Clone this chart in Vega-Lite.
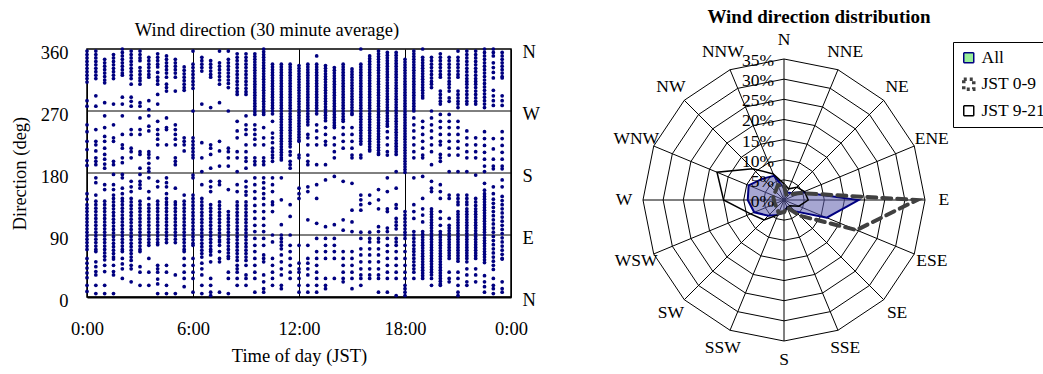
{
"$schema": "https://vega.github.io/schema/vega-lite/v6.json",
"autosize": {"type": "pad"},
"padding": {"left": 9, "top": 8, "right": 0, "bottom": 0},
"background": "white",
"bounds": "flush",
"spacing": 122,
"config": {"font": "Liberation Serif", "view": {"stroke": null}, "axis": {"labelColor": "#000", "titleColor": "#000"}, "title": {"color": "#000"}},
"datasets": {
"scatter": [
{"t":0,"d":357},{"t":0,"d":352},{"t":0,"d":347},{"t":0,"d":342},{"t":0,"d":337},{"t":0,"d":332},{"t":0,"d":327},{"t":0,"d":322},{"t":0,"d":317},{"t":0,"d":312},{"t":0,"d":285},{"t":0,"d":277},{"t":0,"d":250},{"t":0,"d":240},{"t":0,"d":226},{"t":0,"d":214},{"t":0,"d":198},{"t":0,"d":191},{"t":0,"d":150},{"t":0,"d":142},{"t":0,"d":134},{"t":0,"d":129},{"t":0,"d":124},{"t":0,"d":119},{"t":0,"d":114},{"t":0,"d":109},{"t":0,"d":104},{"t":0,"d":99},{"t":0,"d":94},{"t":0,"d":89},{"t":0,"d":84},{"t":0,"d":79},{"t":0,"d":74},{"t":0,"d":69},{"t":0,"d":56},{"t":0,"d":49},{"t":0,"d":42},{"t":0,"d":35},{"t":0,"d":28},{"t":0,"d":17},{"t":0,"d":8},
{"t":0.5,"d":357},{"t":0.5,"d":352},{"t":0.5,"d":347},{"t":0.5,"d":342},{"t":0.5,"d":337},{"t":0.5,"d":332},{"t":0.5,"d":327},{"t":0.5,"d":322},{"t":0.5,"d":317},{"t":0.5,"d":292},{"t":0.5,"d":277},{"t":0.5,"d":243},{"t":0.5,"d":226},{"t":0.5,"d":221},{"t":0.5,"d":212},{"t":0.5,"d":202},{"t":0.5,"d":197},{"t":0.5,"d":192},{"t":0.5,"d":173},{"t":0.5,"d":166},{"t":0.5,"d":148},{"t":0.5,"d":139},{"t":0.5,"d":134},{"t":0.5,"d":129},{"t":0.5,"d":124},{"t":0.5,"d":119},{"t":0.5,"d":114},{"t":0.5,"d":109},{"t":0.5,"d":104},{"t":0.5,"d":99},{"t":0.5,"d":94},{"t":0.5,"d":89},{"t":0.5,"d":84},{"t":0.5,"d":79},{"t":0.5,"d":74},{"t":0.5,"d":69},{"t":0.5,"d":66},{"t":0.5,"d":51},{"t":0.5,"d":44},{"t":0.5,"d":37},{"t":0.5,"d":32},{"t":0.5,"d":17},{"t":0.5,"d":5},
{"t":1,"d":345},{"t":1,"d":340},{"t":1,"d":335},{"t":1,"d":330},{"t":1,"d":325},{"t":1,"d":320},{"t":1,"d":315},{"t":1,"d":311},{"t":1,"d":282},{"t":1,"d":263},{"t":1,"d":246},{"t":1,"d":233},{"t":1,"d":226},{"t":1,"d":216},{"t":1,"d":207},{"t":1,"d":200},{"t":1,"d":193},{"t":1,"d":187},{"t":1,"d":163},{"t":1,"d":156},{"t":1,"d":139},{"t":1,"d":134},{"t":1,"d":129},{"t":1,"d":124},{"t":1,"d":119},{"t":1,"d":114},{"t":1,"d":109},{"t":1,"d":104},{"t":1,"d":99},{"t":1,"d":94},{"t":1,"d":89},{"t":1,"d":84},{"t":1,"d":79},{"t":1,"d":74},{"t":1,"d":69},{"t":1,"d":64},{"t":1,"d":59},{"t":1,"d":54},{"t":1,"d":46},{"t":1,"d":37},{"t":1,"d":17},{"t":1,"d":5},
{"t":1.5,"d":352},{"t":1.5,"d":347},{"t":1.5,"d":342},{"t":1.5,"d":337},{"t":1.5,"d":332},{"t":1.5,"d":327},{"t":1.5,"d":322},{"t":1.5,"d":317},{"t":1.5,"d":280},{"t":1.5,"d":250},{"t":1.5,"d":231},{"t":1.5,"d":226},{"t":1.5,"d":197},{"t":1.5,"d":192},{"t":1.5,"d":178},{"t":1.5,"d":163},{"t":1.5,"d":156},{"t":1.5,"d":148},{"t":1.5,"d":143},{"t":1.5,"d":138},{"t":1.5,"d":133},{"t":1.5,"d":128},{"t":1.5,"d":123},{"t":1.5,"d":118},{"t":1.5,"d":113},{"t":1.5,"d":108},{"t":1.5,"d":103},{"t":1.5,"d":98},{"t":1.5,"d":93},{"t":1.5,"d":88},{"t":1.5,"d":83},{"t":1.5,"d":78},{"t":1.5,"d":73},{"t":1.5,"d":68},{"t":1.5,"d":63},{"t":1.5,"d":58},{"t":1.5,"d":55},{"t":1.5,"d":46},{"t":1.5,"d":37},{"t":1.5,"d":32},{"t":1.5,"d":5},
{"t":2,"d":360},{"t":2,"d":355},{"t":2,"d":350},{"t":2,"d":345},{"t":2,"d":340},{"t":2,"d":335},{"t":2,"d":330},{"t":2,"d":325},{"t":2,"d":322},{"t":2,"d":290},{"t":2,"d":280},{"t":2,"d":263},{"t":2,"d":236},{"t":2,"d":221},{"t":2,"d":216},{"t":2,"d":202},{"t":2,"d":195},{"t":2,"d":178},{"t":2,"d":173},{"t":2,"d":158},{"t":2,"d":150},{"t":2,"d":143},{"t":2,"d":139},{"t":2,"d":134},{"t":2,"d":129},{"t":2,"d":124},{"t":2,"d":119},{"t":2,"d":114},{"t":2,"d":109},{"t":2,"d":104},{"t":2,"d":99},{"t":2,"d":94},{"t":2,"d":89},{"t":2,"d":84},{"t":2,"d":79},{"t":2,"d":74},{"t":2,"d":69},{"t":2,"d":66},{"t":2,"d":56},{"t":2,"d":48},{"t":2,"d":41},{"t":2,"d":27},
{"t":2.5,"d":357},{"t":2.5,"d":352},{"t":2.5,"d":347},{"t":2.5,"d":342},{"t":2.5,"d":337},{"t":2.5,"d":332},{"t":2.5,"d":327},{"t":2.5,"d":322},{"t":2.5,"d":317},{"t":2.5,"d":309},{"t":2.5,"d":290},{"t":2.5,"d":284},{"t":2.5,"d":277},{"t":2.5,"d":243},{"t":2.5,"d":236},{"t":2.5,"d":216},{"t":2.5,"d":211},{"t":2.5,"d":202},{"t":2.5,"d":168},{"t":2.5,"d":160},{"t":2.5,"d":153},{"t":2.5,"d":143},{"t":2.5,"d":138},{"t":2.5,"d":133},{"t":2.5,"d":128},{"t":2.5,"d":123},{"t":2.5,"d":118},{"t":2.5,"d":113},{"t":2.5,"d":108},{"t":2.5,"d":103},{"t":2.5,"d":98},{"t":2.5,"d":93},{"t":2.5,"d":88},{"t":2.5,"d":83},{"t":2.5,"d":78},{"t":2.5,"d":73},{"t":2.5,"d":68},{"t":2.5,"d":63},{"t":2.5,"d":58},{"t":2.5,"d":53},{"t":2.5,"d":46},{"t":2.5,"d":41},{"t":2.5,"d":22},
{"t":3,"d":357},{"t":3,"d":352},{"t":3,"d":347},{"t":3,"d":343},{"t":3,"d":333},{"t":3,"d":328},{"t":3,"d":323},{"t":3,"d":318},{"t":3,"d":314},{"t":3,"d":309},{"t":3,"d":282},{"t":3,"d":277},{"t":3,"d":260},{"t":3,"d":243},{"t":3,"d":236},{"t":3,"d":211},{"t":3,"d":207},{"t":3,"d":187},{"t":3,"d":178},{"t":3,"d":168},{"t":3,"d":163},{"t":3,"d":158},{"t":3,"d":139},{"t":3,"d":134},{"t":3,"d":129},{"t":3,"d":124},{"t":3,"d":119},{"t":3,"d":114},{"t":3,"d":109},{"t":3,"d":104},{"t":3,"d":99},{"t":3,"d":94},{"t":3,"d":89},{"t":3,"d":84},{"t":3,"d":79},{"t":3,"d":74},{"t":3,"d":69},{"t":3,"d":66},{"t":3,"d":44},{"t":3,"d":36},{"t":3,"d":17},
{"t":3.5,"d":348},{"t":3.5,"d":343},{"t":3.5,"d":338},{"t":3.5,"d":333},{"t":3.5,"d":328},{"t":3.5,"d":323},{"t":3.5,"d":319},{"t":3.5,"d":285},{"t":3.5,"d":272},{"t":3.5,"d":263},{"t":3.5,"d":248},{"t":3.5,"d":241},{"t":3.5,"d":211},{"t":3.5,"d":207},{"t":3.5,"d":202},{"t":3.5,"d":194},{"t":3.5,"d":187},{"t":3.5,"d":182},{"t":3.5,"d":173},{"t":3.5,"d":153},{"t":3.5,"d":143},{"t":3.5,"d":134},{"t":3.5,"d":129},{"t":3.5,"d":124},{"t":3.5,"d":119},{"t":3.5,"d":114},{"t":3.5,"d":109},{"t":3.5,"d":104},{"t":3.5,"d":99},{"t":3.5,"d":94},{"t":3.5,"d":89},{"t":3.5,"d":84},{"t":3.5,"d":79},{"t":3.5,"d":75},{"t":3.5,"d":56},{"t":3.5,"d":36},{"t":3.5,"d":17},
{"t":4,"d":353},{"t":4,"d":348},{"t":4,"d":343},{"t":4,"d":338},{"t":4,"d":334},{"t":4,"d":326},{"t":4,"d":319},{"t":4,"d":314},{"t":4,"d":309},{"t":4,"d":294},{"t":4,"d":280},{"t":4,"d":255},{"t":4,"d":243},{"t":4,"d":236},{"t":4,"d":229},{"t":4,"d":221},{"t":4,"d":202},{"t":4,"d":168},{"t":4,"d":160},{"t":4,"d":139},{"t":4,"d":134},{"t":4,"d":129},{"t":4,"d":124},{"t":4,"d":119},{"t":4,"d":114},{"t":4,"d":109},{"t":4,"d":104},{"t":4,"d":99},{"t":4,"d":94},{"t":4,"d":89},{"t":4,"d":84},{"t":4,"d":79},{"t":4,"d":76},{"t":4,"d":46},{"t":4,"d":41},{"t":4,"d":36},{"t":4,"d":26},{"t":4,"d":19},{"t":4,"d":5},
{"t":4.5,"d":350},{"t":4.5,"d":345},{"t":4.5,"d":340},{"t":4.5,"d":335},{"t":4.5,"d":330},{"t":4.5,"d":325},{"t":4.5,"d":319},{"t":4.5,"d":309},{"t":4.5,"d":304},{"t":4.5,"d":299},{"t":4.5,"d":260},{"t":4.5,"d":246},{"t":4.5,"d":243},{"t":4.5,"d":221},{"t":4.5,"d":173},{"t":4.5,"d":166},{"t":4.5,"d":160},{"t":4.5,"d":150},{"t":4.5,"d":143},{"t":4.5,"d":138},{"t":4.5,"d":134},{"t":4.5,"d":129},{"t":4.5,"d":124},{"t":4.5,"d":119},{"t":4.5,"d":114},{"t":4.5,"d":109},{"t":4.5,"d":104},{"t":4.5,"d":99},{"t":4.5,"d":94},{"t":4.5,"d":89},{"t":4.5,"d":84},{"t":4.5,"d":79},{"t":4.5,"d":46},{"t":4.5,"d":36},{"t":4.5,"d":17},{"t":4.5,"d":5},
{"t":5,"d":345},{"t":5,"d":340},{"t":5,"d":335},{"t":5,"d":330},{"t":5,"d":325},{"t":5,"d":319},{"t":5,"d":299},{"t":5,"d":250},{"t":5,"d":243},{"t":5,"d":236},{"t":5,"d":229},{"t":5,"d":221},{"t":5,"d":202},{"t":5,"d":197},{"t":5,"d":192},{"t":5,"d":158},{"t":5,"d":138},{"t":5,"d":134},{"t":5,"d":129},{"t":5,"d":124},{"t":5,"d":119},{"t":5,"d":114},{"t":5,"d":109},{"t":5,"d":104},{"t":5,"d":99},{"t":5,"d":94},{"t":5,"d":89},{"t":5,"d":84},{"t":5,"d":79},{"t":5,"d":32},{"t":5,"d":5},
{"t":5.5,"d":334},{"t":5.5,"d":329},{"t":5.5,"d":324},{"t":5.5,"d":319},{"t":5.5,"d":314},{"t":5.5,"d":309},{"t":5.5,"d":304},{"t":5.5,"d":300},{"t":5.5,"d":231},{"t":5.5,"d":226},{"t":5.5,"d":221},{"t":5.5,"d":212},{"t":5.5,"d":148},{"t":5.5,"d":139},{"t":5.5,"d":134},{"t":5.5,"d":129},{"t":5.5,"d":124},{"t":5.5,"d":119},{"t":5.5,"d":114},{"t":5.5,"d":109},{"t":5.5,"d":104},{"t":5.5,"d":99},{"t":5.5,"d":94},{"t":5.5,"d":89},{"t":5.5,"d":84},{"t":5.5,"d":79},{"t":5.5,"d":74},{"t":5.5,"d":69},{"t":5.5,"d":66},{"t":5.5,"d":56},{"t":5.5,"d":46},{"t":5.5,"d":36},{"t":5.5,"d":27},{"t":5.5,"d":15},
{"t":6,"d":357},{"t":6,"d":338},{"t":6,"d":333},{"t":6,"d":328},{"t":6,"d":323},{"t":6,"d":318},{"t":6,"d":313},{"t":6,"d":308},{"t":6,"d":303},{"t":6,"d":270},{"t":6,"d":231},{"t":6,"d":226},{"t":6,"d":221},{"t":6,"d":216},{"t":6,"d":211},{"t":6,"d":206},{"t":6,"d":202},{"t":6,"d":177},{"t":6,"d":173},{"t":6,"d":148},{"t":6,"d":143},{"t":6,"d":138},{"t":6,"d":133},{"t":6,"d":128},{"t":6,"d":123},{"t":6,"d":118},{"t":6,"d":113},{"t":6,"d":108},{"t":6,"d":103},{"t":6,"d":98},{"t":6,"d":93},{"t":6,"d":88},{"t":6,"d":83},{"t":6,"d":78},{"t":6,"d":75},{"t":6,"d":56},{"t":6,"d":46},{"t":6,"d":36},{"t":6,"d":27},{"t":6,"d":7},
{"t":6.5,"d":348},{"t":6.5,"d":343},{"t":6.5,"d":338},{"t":6.5,"d":333},{"t":6.5,"d":328},{"t":6.5,"d":280},{"t":6.5,"d":224},{"t":6.5,"d":202},{"t":6.5,"d":182},{"t":6.5,"d":163},{"t":6.5,"d":143},{"t":6.5,"d":138},{"t":6.5,"d":133},{"t":6.5,"d":128},{"t":6.5,"d":123},{"t":6.5,"d":118},{"t":6.5,"d":113},{"t":6.5,"d":108},{"t":6.5,"d":103},{"t":6.5,"d":98},{"t":6.5,"d":93},{"t":6.5,"d":88},{"t":6.5,"d":83},{"t":6.5,"d":78},{"t":6.5,"d":73},{"t":6.5,"d":68},{"t":6.5,"d":63},{"t":6.5,"d":58},{"t":6.5,"d":49},{"t":6.5,"d":41},{"t":6.5,"d":32},{"t":6.5,"d":17},{"t":6.5,"d":5},
{"t":7,"d":343},{"t":7,"d":338},{"t":7,"d":333},{"t":7,"d":328},{"t":7,"d":323},{"t":7,"d":319},{"t":7,"d":275},{"t":7,"d":221},{"t":7,"d":216},{"t":7,"d":207},{"t":7,"d":187},{"t":7,"d":168},{"t":7,"d":160},{"t":7,"d":153},{"t":7,"d":134},{"t":7,"d":129},{"t":7,"d":124},{"t":7,"d":119},{"t":7,"d":114},{"t":7,"d":109},{"t":7,"d":104},{"t":7,"d":99},{"t":7,"d":94},{"t":7,"d":89},{"t":7,"d":84},{"t":7,"d":79},{"t":7,"d":74},{"t":7,"d":69},{"t":7,"d":66},{"t":7,"d":61},{"t":7,"d":51},{"t":7,"d":27},{"t":7,"d":17},{"t":7,"d":7},{"t":7,"d":2},
{"t":7.5,"d":357},{"t":7.5,"d":340},{"t":7.5,"d":335},{"t":7.5,"d":330},{"t":7.5,"d":325},{"t":7.5,"d":320},{"t":7.5,"d":315},{"t":7.5,"d":309},{"t":7.5,"d":282},{"t":7.5,"d":226},{"t":7.5,"d":212},{"t":7.5,"d":190},{"t":7.5,"d":168},{"t":7.5,"d":163},{"t":7.5,"d":138},{"t":7.5,"d":133},{"t":7.5,"d":128},{"t":7.5,"d":123},{"t":7.5,"d":118},{"t":7.5,"d":113},{"t":7.5,"d":108},{"t":7.5,"d":103},{"t":7.5,"d":98},{"t":7.5,"d":93},{"t":7.5,"d":88},{"t":7.5,"d":83},{"t":7.5,"d":80},{"t":7.5,"d":75},{"t":7.5,"d":66},{"t":7.5,"d":56},{"t":7.5,"d":51},{"t":7.5,"d":7},
{"t":8,"d":357},{"t":8,"d":345},{"t":8,"d":340},{"t":8,"d":335},{"t":8,"d":330},{"t":8,"d":325},{"t":8,"d":320},{"t":8,"d":315},{"t":8,"d":310},{"t":8,"d":304},{"t":8,"d":270},{"t":8,"d":216},{"t":8,"d":211},{"t":8,"d":202},{"t":8,"d":190},{"t":8,"d":156},{"t":8,"d":124},{"t":8,"d":119},{"t":8,"d":114},{"t":8,"d":109},{"t":8,"d":104},{"t":8,"d":99},{"t":8,"d":94},{"t":8,"d":89},{"t":8,"d":84},{"t":8,"d":79},{"t":8,"d":74},{"t":8,"d":69},{"t":8,"d":64},{"t":8,"d":59},{"t":8,"d":56},{"t":8,"d":36},{"t":8,"d":27},{"t":8,"d":5},
{"t":8.5,"d":353},{"t":8.5,"d":348},{"t":8.5,"d":343},{"t":8.5,"d":338},{"t":8.5,"d":333},{"t":8.5,"d":328},{"t":8.5,"d":323},{"t":8.5,"d":318},{"t":8.5,"d":313},{"t":8.5,"d":308},{"t":8.5,"d":303},{"t":8.5,"d":298},{"t":8.5,"d":294},{"t":8.5,"d":255},{"t":8.5,"d":241},{"t":8.5,"d":231},{"t":8.5,"d":211},{"t":8.5,"d":202},{"t":8.5,"d":182},{"t":8.5,"d":163},{"t":8.5,"d":153},{"t":8.5,"d":138},{"t":8.5,"d":133},{"t":8.5,"d":128},{"t":8.5,"d":123},{"t":8.5,"d":118},{"t":8.5,"d":113},{"t":8.5,"d":108},{"t":8.5,"d":103},{"t":8.5,"d":98},{"t":8.5,"d":93},{"t":8.5,"d":88},{"t":8.5,"d":83},{"t":8.5,"d":78},{"t":8.5,"d":73},{"t":8.5,"d":68},{"t":8.5,"d":63},{"t":8.5,"d":58},{"t":8.5,"d":53},{"t":8.5,"d":46},{"t":8.5,"d":41},{"t":8.5,"d":36},{"t":8.5,"d":27},{"t":8.5,"d":17},
{"t":9,"d":353},{"t":9,"d":348},{"t":9,"d":343},{"t":9,"d":338},{"t":9,"d":333},{"t":9,"d":328},{"t":9,"d":323},{"t":9,"d":318},{"t":9,"d":313},{"t":9,"d":308},{"t":9,"d":303},{"t":9,"d":298},{"t":9,"d":294},{"t":9,"d":263},{"t":9,"d":250},{"t":9,"d":243},{"t":9,"d":236},{"t":9,"d":221},{"t":9,"d":211},{"t":9,"d":202},{"t":9,"d":197},{"t":9,"d":187},{"t":9,"d":168},{"t":9,"d":160},{"t":9,"d":153},{"t":9,"d":148},{"t":9,"d":138},{"t":9,"d":133},{"t":9,"d":128},{"t":9,"d":123},{"t":9,"d":118},{"t":9,"d":113},{"t":9,"d":108},{"t":9,"d":103},{"t":9,"d":98},{"t":9,"d":93},{"t":9,"d":88},{"t":9,"d":83},{"t":9,"d":78},{"t":9,"d":73},{"t":9,"d":68},{"t":9,"d":63},{"t":9,"d":58},{"t":9,"d":53},{"t":9,"d":46},{"t":9,"d":32},{"t":9,"d":27},{"t":9,"d":17},
{"t":9.5,"d":353},{"t":9.5,"d":349},{"t":9.5,"d":345},{"t":9.5,"d":341},{"t":9.5,"d":337},{"t":9.5,"d":333},{"t":9.5,"d":329},{"t":9.5,"d":325},{"t":9.5,"d":321},{"t":9.5,"d":317},{"t":9.5,"d":313},{"t":9.5,"d":309},{"t":9.5,"d":305},{"t":9.5,"d":301},{"t":9.5,"d":297},{"t":9.5,"d":293},{"t":9.5,"d":289},{"t":9.5,"d":285},{"t":9.5,"d":281},{"t":9.5,"d":277},{"t":9.5,"d":273},{"t":9.5,"d":269},{"t":9.5,"d":265},{"t":9.5,"d":250},{"t":9.5,"d":243},{"t":9.5,"d":236},{"t":9.5,"d":229},{"t":9.5,"d":221},{"t":9.5,"d":202},{"t":9.5,"d":197},{"t":9.5,"d":192},{"t":9.5,"d":173},{"t":9.5,"d":163},{"t":9.5,"d":153},{"t":9.5,"d":143},{"t":9.5,"d":133},{"t":9.5,"d":124},{"t":9.5,"d":114},{"t":9.5,"d":104},{"t":9.5,"d":95},{"t":9.5,"d":85},{"t":9.5,"d":75},{"t":9.5,"d":66},{"t":9.5,"d":56},{"t":9.5,"d":46},{"t":9.5,"d":36},{"t":9.5,"d":27},{"t":9.5,"d":7},
{"t":10,"d":360},{"t":10,"d":356},{"t":10,"d":352},{"t":10,"d":348},{"t":10,"d":344},{"t":10,"d":340},{"t":10,"d":336},{"t":10,"d":332},{"t":10,"d":328},{"t":10,"d":324},{"t":10,"d":320},{"t":10,"d":316},{"t":10,"d":312},{"t":10,"d":308},{"t":10,"d":304},{"t":10,"d":300},{"t":10,"d":296},{"t":10,"d":292},{"t":10,"d":288},{"t":10,"d":284},{"t":10,"d":280},{"t":10,"d":276},{"t":10,"d":272},{"t":10,"d":268},{"t":10,"d":265},{"t":10,"d":246},{"t":10,"d":231},{"t":10,"d":221},{"t":10,"d":202},{"t":10,"d":197},{"t":10,"d":192},{"t":10,"d":173},{"t":10,"d":166},{"t":10,"d":158},{"t":10,"d":150},{"t":10,"d":143},{"t":10,"d":134},{"t":10,"d":124},{"t":10,"d":114},{"t":10,"d":104},{"t":10,"d":95},{"t":10,"d":85},{"t":10,"d":75},{"t":10,"d":61},{"t":10,"d":56},{"t":10,"d":51},{"t":10,"d":32},{"t":10,"d":22},{"t":10,"d":12},{"t":10,"d":7},
{"t":10.5,"d":338},{"t":10.5,"d":334},{"t":10.5,"d":330},{"t":10.5,"d":326},{"t":10.5,"d":322},{"t":10.5,"d":318},{"t":10.5,"d":314},{"t":10.5,"d":310},{"t":10.5,"d":306},{"t":10.5,"d":302},{"t":10.5,"d":298},{"t":10.5,"d":294},{"t":10.5,"d":290},{"t":10.5,"d":286},{"t":10.5,"d":282},{"t":10.5,"d":278},{"t":10.5,"d":274},{"t":10.5,"d":270},{"t":10.5,"d":266},{"t":10.5,"d":255},{"t":10.5,"d":238},{"t":10.5,"d":231},{"t":10.5,"d":224},{"t":10.5,"d":216},{"t":10.5,"d":211},{"t":10.5,"d":206},{"t":10.5,"d":202},{"t":10.5,"d":197},{"t":10.5,"d":173},{"t":10.5,"d":163},{"t":10.5,"d":153},{"t":10.5,"d":138},{"t":10.5,"d":134},{"t":10.5,"d":124},{"t":10.5,"d":90},{"t":10.5,"d":80},{"t":10.5,"d":56},{"t":10.5,"d":46},{"t":10.5,"d":36},{"t":10.5,"d":27},{"t":10.5,"d":17},
{"t":11,"d":338},{"t":11,"d":334},{"t":11,"d":330},{"t":11,"d":326},{"t":11,"d":322},{"t":11,"d":318},{"t":11,"d":314},{"t":11,"d":310},{"t":11,"d":306},{"t":11,"d":302},{"t":11,"d":298},{"t":11,"d":294},{"t":11,"d":290},{"t":11,"d":286},{"t":11,"d":282},{"t":11,"d":278},{"t":11,"d":274},{"t":11,"d":270},{"t":11,"d":266},{"t":11,"d":262},{"t":11,"d":258},{"t":11,"d":254},{"t":11,"d":250},{"t":11,"d":246},{"t":11,"d":242},{"t":11,"d":238},{"t":11,"d":234},{"t":11,"d":230},{"t":11,"d":226},{"t":11,"d":222},{"t":11,"d":218},{"t":11,"d":214},{"t":11,"d":210},{"t":11,"d":206},{"t":11,"d":202},{"t":11,"d":199},{"t":11,"d":173},{"t":11,"d":141},{"t":11,"d":105},{"t":11,"d":90},{"t":11,"d":85},{"t":11,"d":80},{"t":11,"d":75},{"t":11,"d":70},{"t":11,"d":61},{"t":11,"d":51},{"t":11,"d":41},{"t":11,"d":32},{"t":11,"d":17},{"t":11,"d":12},
{"t":11.5,"d":338},{"t":11.5,"d":334},{"t":11.5,"d":330},{"t":11.5,"d":326},{"t":11.5,"d":322},{"t":11.5,"d":318},{"t":11.5,"d":314},{"t":11.5,"d":310},{"t":11.5,"d":306},{"t":11.5,"d":302},{"t":11.5,"d":298},{"t":11.5,"d":294},{"t":11.5,"d":290},{"t":11.5,"d":286},{"t":11.5,"d":282},{"t":11.5,"d":278},{"t":11.5,"d":274},{"t":11.5,"d":270},{"t":11.5,"d":266},{"t":11.5,"d":262},{"t":11.5,"d":258},{"t":11.5,"d":254},{"t":11.5,"d":250},{"t":11.5,"d":246},{"t":11.5,"d":242},{"t":11.5,"d":238},{"t":11.5,"d":234},{"t":11.5,"d":230},{"t":11.5,"d":226},{"t":11.5,"d":222},{"t":11.5,"d":218},{"t":11.5,"d":211},{"t":11.5,"d":206},{"t":11.5,"d":197},{"t":11.5,"d":192},{"t":11.5,"d":187},{"t":11.5,"d":134},{"t":11.5,"d":117},{"t":11.5,"d":90},{"t":11.5,"d":75},{"t":11.5,"d":66},{"t":11.5,"d":56},{"t":11.5,"d":46},{"t":11.5,"d":36},{"t":11.5,"d":27},
{"t":12,"d":336},{"t":12,"d":332},{"t":12,"d":328},{"t":12,"d":324},{"t":12,"d":320},{"t":12,"d":316},{"t":12,"d":312},{"t":12,"d":308},{"t":12,"d":304},{"t":12,"d":300},{"t":12,"d":296},{"t":12,"d":292},{"t":12,"d":288},{"t":12,"d":284},{"t":12,"d":280},{"t":12,"d":276},{"t":12,"d":272},{"t":12,"d":268},{"t":12,"d":264},{"t":12,"d":260},{"t":12,"d":256},{"t":12,"d":252},{"t":12,"d":248},{"t":12,"d":244},{"t":12,"d":240},{"t":12,"d":236},{"t":12,"d":232},{"t":12,"d":228},{"t":12,"d":226},{"t":12,"d":206},{"t":12,"d":202},{"t":12,"d":158},{"t":12,"d":150},{"t":12,"d":143},{"t":12,"d":75},{"t":12,"d":49},{"t":12,"d":41},{"t":12,"d":36},{"t":12,"d":27},{"t":12,"d":17},{"t":12,"d":7},
{"t":12.5,"d":338},{"t":12.5,"d":334},{"t":12.5,"d":330},{"t":12.5,"d":326},{"t":12.5,"d":322},{"t":12.5,"d":318},{"t":12.5,"d":314},{"t":12.5,"d":310},{"t":12.5,"d":306},{"t":12.5,"d":302},{"t":12.5,"d":298},{"t":12.5,"d":294},{"t":12.5,"d":290},{"t":12.5,"d":286},{"t":12.5,"d":282},{"t":12.5,"d":278},{"t":12.5,"d":274},{"t":12.5,"d":270},{"t":12.5,"d":266},{"t":12.5,"d":262},{"t":12.5,"d":258},{"t":12.5,"d":254},{"t":12.5,"d":250},{"t":12.5,"d":236},{"t":12.5,"d":231},{"t":12.5,"d":221},{"t":12.5,"d":206},{"t":12.5,"d":197},{"t":12.5,"d":192},{"t":12.5,"d":160},{"t":12.5,"d":153},{"t":12.5,"d":112},{"t":12.5,"d":75},{"t":12.5,"d":56},{"t":12.5,"d":49},{"t":12.5,"d":41},{"t":12.5,"d":32},{"t":12.5,"d":17},{"t":12.5,"d":7},
{"t":13,"d":350},{"t":13,"d":338},{"t":13,"d":334},{"t":13,"d":330},{"t":13,"d":326},{"t":13,"d":322},{"t":13,"d":318},{"t":13,"d":314},{"t":13,"d":310},{"t":13,"d":306},{"t":13,"d":302},{"t":13,"d":298},{"t":13,"d":294},{"t":13,"d":290},{"t":13,"d":286},{"t":13,"d":282},{"t":13,"d":278},{"t":13,"d":274},{"t":13,"d":270},{"t":13,"d":266},{"t":13,"d":250},{"t":13,"d":241},{"t":13,"d":231},{"t":13,"d":221},{"t":13,"d":192},{"t":13,"d":163},{"t":13,"d":143},{"t":13,"d":107},{"t":13,"d":85},{"t":13,"d":66},{"t":13,"d":56},{"t":13,"d":46},{"t":13,"d":36},{"t":13,"d":27},{"t":13,"d":17},{"t":13,"d":7},
{"t":13.5,"d":336},{"t":13.5,"d":332},{"t":13.5,"d":328},{"t":13.5,"d":324},{"t":13.5,"d":320},{"t":13.5,"d":316},{"t":13.5,"d":312},{"t":13.5,"d":308},{"t":13.5,"d":304},{"t":13.5,"d":300},{"t":13.5,"d":296},{"t":13.5,"d":292},{"t":13.5,"d":288},{"t":13.5,"d":284},{"t":13.5,"d":280},{"t":13.5,"d":276},{"t":13.5,"d":272},{"t":13.5,"d":268},{"t":13.5,"d":264},{"t":13.5,"d":260},{"t":13.5,"d":256},{"t":13.5,"d":246},{"t":13.5,"d":236},{"t":13.5,"d":226},{"t":13.5,"d":221},{"t":13.5,"d":192},{"t":13.5,"d":170},{"t":13.5,"d":102},{"t":13.5,"d":85},{"t":13.5,"d":75},{"t":13.5,"d":66},{"t":13.5,"d":56},{"t":13.5,"d":27},{"t":13.5,"d":17},{"t":13.5,"d":12},
{"t":14,"d":333},{"t":14,"d":329},{"t":14,"d":325},{"t":14,"d":321},{"t":14,"d":317},{"t":14,"d":313},{"t":14,"d":309},{"t":14,"d":305},{"t":14,"d":301},{"t":14,"d":297},{"t":14,"d":293},{"t":14,"d":289},{"t":14,"d":285},{"t":14,"d":281},{"t":14,"d":277},{"t":14,"d":273},{"t":14,"d":269},{"t":14,"d":265},{"t":14,"d":261},{"t":14,"d":257},{"t":14,"d":253},{"t":14,"d":249},{"t":14,"d":246},{"t":14,"d":231},{"t":14,"d":221},{"t":14,"d":211},{"t":14,"d":202},{"t":14,"d":175},{"t":14,"d":105},{"t":14,"d":85},{"t":14,"d":75},{"t":14,"d":66},{"t":14,"d":56},{"t":14,"d":27},
{"t":14.5,"d":338},{"t":14.5,"d":334},{"t":14.5,"d":330},{"t":14.5,"d":326},{"t":14.5,"d":322},{"t":14.5,"d":318},{"t":14.5,"d":314},{"t":14.5,"d":310},{"t":14.5,"d":306},{"t":14.5,"d":302},{"t":14.5,"d":298},{"t":14.5,"d":294},{"t":14.5,"d":290},{"t":14.5,"d":286},{"t":14.5,"d":282},{"t":14.5,"d":278},{"t":14.5,"d":274},{"t":14.5,"d":270},{"t":14.5,"d":266},{"t":14.5,"d":262},{"t":14.5,"d":258},{"t":14.5,"d":255},{"t":14.5,"d":246},{"t":14.5,"d":236},{"t":14.5,"d":226},{"t":14.5,"d":216},{"t":14.5,"d":168},{"t":14.5,"d":112},{"t":14.5,"d":97},{"t":14.5,"d":66},{"t":14.5,"d":56},{"t":14.5,"d":46},{"t":14.5,"d":36},{"t":14.5,"d":27},{"t":14.5,"d":22},
{"t":15,"d":331},{"t":15,"d":327},{"t":15,"d":323},{"t":15,"d":319},{"t":15,"d":315},{"t":15,"d":311},{"t":15,"d":307},{"t":15,"d":303},{"t":15,"d":299},{"t":15,"d":295},{"t":15,"d":291},{"t":15,"d":287},{"t":15,"d":283},{"t":15,"d":279},{"t":15,"d":275},{"t":15,"d":271},{"t":15,"d":267},{"t":15,"d":265},{"t":15,"d":246},{"t":15,"d":236},{"t":15,"d":226},{"t":15,"d":216},{"t":15,"d":206},{"t":15,"d":202},{"t":15,"d":165},{"t":15,"d":126},{"t":15,"d":109},{"t":15,"d":95},{"t":15,"d":66},{"t":15,"d":56},{"t":15,"d":46},{"t":15,"d":36},{"t":15,"d":27},{"t":15,"d":12},
{"t":15.5,"d":360},{"t":15.5,"d":338},{"t":15.5,"d":334},{"t":15.5,"d":330},{"t":15.5,"d":326},{"t":15.5,"d":322},{"t":15.5,"d":318},{"t":15.5,"d":314},{"t":15.5,"d":310},{"t":15.5,"d":306},{"t":15.5,"d":302},{"t":15.5,"d":298},{"t":15.5,"d":294},{"t":15.5,"d":290},{"t":15.5,"d":286},{"t":15.5,"d":282},{"t":15.5,"d":278},{"t":15.5,"d":274},{"t":15.5,"d":270},{"t":15.5,"d":266},{"t":15.5,"d":262},{"t":15.5,"d":258},{"t":15.5,"d":254},{"t":15.5,"d":250},{"t":15.5,"d":246},{"t":15.5,"d":242},{"t":15.5,"d":238},{"t":15.5,"d":234},{"t":15.5,"d":230},{"t":15.5,"d":226},{"t":15.5,"d":222},{"t":15.5,"d":206},{"t":15.5,"d":202},{"t":15.5,"d":148},{"t":15.5,"d":141},{"t":15.5,"d":134},{"t":15.5,"d":126},{"t":15.5,"d":94},{"t":15.5,"d":85},{"t":15.5,"d":70},{"t":15.5,"d":61},{"t":15.5,"d":51},{"t":15.5,"d":41},{"t":15.5,"d":32},{"t":15.5,"d":27},{"t":15.5,"d":17},
{"t":16,"d":350},{"t":16,"d":346},{"t":16,"d":342},{"t":16,"d":338},{"t":16,"d":334},{"t":16,"d":330},{"t":16,"d":326},{"t":16,"d":322},{"t":16,"d":318},{"t":16,"d":314},{"t":16,"d":310},{"t":16,"d":306},{"t":16,"d":302},{"t":16,"d":298},{"t":16,"d":294},{"t":16,"d":290},{"t":16,"d":286},{"t":16,"d":282},{"t":16,"d":278},{"t":16,"d":274},{"t":16,"d":270},{"t":16,"d":266},{"t":16,"d":262},{"t":16,"d":258},{"t":16,"d":254},{"t":16,"d":250},{"t":16,"d":246},{"t":16,"d":242},{"t":16,"d":238},{"t":16,"d":234},{"t":16,"d":230},{"t":16,"d":226},{"t":16,"d":222},{"t":16,"d":218},{"t":16,"d":214},{"t":16,"d":212},{"t":16,"d":148},{"t":16,"d":136},{"t":16,"d":94},{"t":16,"d":85},{"t":16,"d":80},{"t":16,"d":70},{"t":16,"d":61},{"t":16,"d":51},{"t":16,"d":41},{"t":16,"d":32},{"t":16,"d":27},
{"t":16.5,"d":357},{"t":16.5,"d":353},{"t":16.5,"d":349},{"t":16.5,"d":345},{"t":16.5,"d":341},{"t":16.5,"d":337},{"t":16.5,"d":333},{"t":16.5,"d":329},{"t":16.5,"d":325},{"t":16.5,"d":321},{"t":16.5,"d":317},{"t":16.5,"d":313},{"t":16.5,"d":309},{"t":16.5,"d":305},{"t":16.5,"d":301},{"t":16.5,"d":297},{"t":16.5,"d":293},{"t":16.5,"d":289},{"t":16.5,"d":285},{"t":16.5,"d":281},{"t":16.5,"d":277},{"t":16.5,"d":273},{"t":16.5,"d":269},{"t":16.5,"d":265},{"t":16.5,"d":261},{"t":16.5,"d":257},{"t":16.5,"d":253},{"t":16.5,"d":249},{"t":16.5,"d":245},{"t":16.5,"d":241},{"t":16.5,"d":237},{"t":16.5,"d":233},{"t":16.5,"d":229},{"t":16.5,"d":225},{"t":16.5,"d":221},{"t":16.5,"d":217},{"t":16.5,"d":213},{"t":16.5,"d":209},{"t":16.5,"d":207},{"t":16.5,"d":156},{"t":16.5,"d":141},{"t":16.5,"d":128},{"t":16.5,"d":102},{"t":16.5,"d":95},{"t":16.5,"d":85},{"t":16.5,"d":80},{"t":16.5,"d":70},{"t":16.5,"d":61},{"t":16.5,"d":51},{"t":16.5,"d":41},{"t":16.5,"d":32},{"t":16.5,"d":27},{"t":16.5,"d":7},
{"t":17,"d":355},{"t":17,"d":351},{"t":17,"d":347},{"t":17,"d":343},{"t":17,"d":339},{"t":17,"d":335},{"t":17,"d":331},{"t":17,"d":327},{"t":17,"d":323},{"t":17,"d":319},{"t":17,"d":315},{"t":17,"d":311},{"t":17,"d":307},{"t":17,"d":303},{"t":17,"d":299},{"t":17,"d":295},{"t":17,"d":291},{"t":17,"d":287},{"t":17,"d":283},{"t":17,"d":279},{"t":17,"d":275},{"t":17,"d":271},{"t":17,"d":267},{"t":17,"d":263},{"t":17,"d":259},{"t":17,"d":255},{"t":17,"d":251},{"t":17,"d":248},{"t":17,"d":240},{"t":17,"d":231},{"t":17,"d":221},{"t":17,"d":211},{"t":17,"d":206},{"t":17,"d":173},{"t":17,"d":153},{"t":17,"d":128},{"t":17,"d":124},{"t":17,"d":100},{"t":17,"d":95},{"t":17,"d":85},{"t":17,"d":75},{"t":17,"d":66},{"t":17,"d":56},{"t":17,"d":46},{"t":17,"d":36},{"t":17,"d":27},{"t":17,"d":7},
{"t":17.5,"d":355},{"t":17.5,"d":351},{"t":17.5,"d":347},{"t":17.5,"d":343},{"t":17.5,"d":339},{"t":17.5,"d":335},{"t":17.5,"d":331},{"t":17.5,"d":327},{"t":17.5,"d":323},{"t":17.5,"d":319},{"t":17.5,"d":315},{"t":17.5,"d":311},{"t":17.5,"d":307},{"t":17.5,"d":303},{"t":17.5,"d":299},{"t":17.5,"d":295},{"t":17.5,"d":291},{"t":17.5,"d":287},{"t":17.5,"d":283},{"t":17.5,"d":279},{"t":17.5,"d":275},{"t":17.5,"d":271},{"t":17.5,"d":267},{"t":17.5,"d":263},{"t":17.5,"d":259},{"t":17.5,"d":255},{"t":17.5,"d":251},{"t":17.5,"d":247},{"t":17.5,"d":243},{"t":17.5,"d":239},{"t":17.5,"d":235},{"t":17.5,"d":231},{"t":17.5,"d":227},{"t":17.5,"d":223},{"t":17.5,"d":219},{"t":17.5,"d":215},{"t":17.5,"d":211},{"t":17.5,"d":207},{"t":17.5,"d":182},{"t":17.5,"d":158},{"t":17.5,"d":134},{"t":17.5,"d":129},{"t":17.5,"d":114},{"t":17.5,"d":109},{"t":17.5,"d":104},{"t":17.5,"d":99},{"t":17.5,"d":85},{"t":17.5,"d":80},{"t":17.5,"d":75},{"t":17.5,"d":66},{"t":17.5,"d":56},{"t":17.5,"d":46},{"t":17.5,"d":36},{"t":17.5,"d":27},{"t":17.5,"d":2},
{"t":18,"d":345},{"t":18,"d":341},{"t":18,"d":337},{"t":18,"d":333},{"t":18,"d":329},{"t":18,"d":325},{"t":18,"d":321},{"t":18,"d":317},{"t":18,"d":313},{"t":18,"d":309},{"t":18,"d":305},{"t":18,"d":301},{"t":18,"d":297},{"t":18,"d":293},{"t":18,"d":289},{"t":18,"d":285},{"t":18,"d":281},{"t":18,"d":277},{"t":18,"d":273},{"t":18,"d":269},{"t":18,"d":265},{"t":18,"d":261},{"t":18,"d":257},{"t":18,"d":253},{"t":18,"d":249},{"t":18,"d":245},{"t":18,"d":241},{"t":18,"d":237},{"t":18,"d":233},{"t":18,"d":229},{"t":18,"d":225},{"t":18,"d":221},{"t":18,"d":217},{"t":18,"d":213},{"t":18,"d":209},{"t":18,"d":205},{"t":18,"d":201},{"t":18,"d":197},{"t":18,"d":193},{"t":18,"d":189},{"t":18,"d":185},{"t":18,"d":181},{"t":18,"d":124},{"t":18,"d":119},{"t":18,"d":114},{"t":18,"d":109},{"t":18,"d":104},{"t":18,"d":99},{"t":18,"d":94},{"t":18,"d":90},{"t":18,"d":85},{"t":18,"d":75},{"t":18,"d":66},{"t":18,"d":56},{"t":18,"d":46},{"t":18,"d":36},{"t":18,"d":27},{"t":18,"d":17},{"t":18,"d":12},{"t":18,"d":7},{"t":18,"d":2},
{"t":18.5,"d":357},{"t":18.5,"d":353},{"t":18.5,"d":349},{"t":18.5,"d":345},{"t":18.5,"d":341},{"t":18.5,"d":337},{"t":18.5,"d":333},{"t":18.5,"d":329},{"t":18.5,"d":325},{"t":18.5,"d":321},{"t":18.5,"d":317},{"t":18.5,"d":313},{"t":18.5,"d":309},{"t":18.5,"d":305},{"t":18.5,"d":301},{"t":18.5,"d":297},{"t":18.5,"d":293},{"t":18.5,"d":289},{"t":18.5,"d":285},{"t":18.5,"d":281},{"t":18.5,"d":277},{"t":18.5,"d":273},{"t":18.5,"d":270},{"t":18.5,"d":260},{"t":18.5,"d":250},{"t":18.5,"d":241},{"t":18.5,"d":231},{"t":18.5,"d":221},{"t":18.5,"d":211},{"t":18.5,"d":202},{"t":18.5,"d":173},{"t":18.5,"d":134},{"t":18.5,"d":124},{"t":18.5,"d":114},{"t":18.5,"d":95},{"t":18.5,"d":90},{"t":18.5,"d":85},{"t":18.5,"d":80},{"t":18.5,"d":75},{"t":18.5,"d":70},{"t":18.5,"d":66},{"t":18.5,"d":61},{"t":18.5,"d":56},{"t":18.5,"d":51},{"t":18.5,"d":46},{"t":18.5,"d":41},{"t":18.5,"d":36},{"t":18.5,"d":27},
{"t":19,"d":360},{"t":19,"d":348},{"t":19,"d":344},{"t":19,"d":340},{"t":19,"d":336},{"t":19,"d":332},{"t":19,"d":328},{"t":19,"d":324},{"t":19,"d":320},{"t":19,"d":316},{"t":19,"d":312},{"t":19,"d":308},{"t":19,"d":304},{"t":19,"d":300},{"t":19,"d":296},{"t":19,"d":292},{"t":19,"d":289},{"t":19,"d":255},{"t":19,"d":246},{"t":19,"d":236},{"t":19,"d":226},{"t":19,"d":216},{"t":19,"d":206},{"t":19,"d":202},{"t":19,"d":175},{"t":19,"d":143},{"t":19,"d":128},{"t":19,"d":119},{"t":19,"d":109},{"t":19,"d":95},{"t":19,"d":91},{"t":19,"d":87},{"t":19,"d":83},{"t":19,"d":79},{"t":19,"d":75},{"t":19,"d":71},{"t":19,"d":67},{"t":19,"d":63},{"t":19,"d":59},{"t":19,"d":55},{"t":19,"d":51},{"t":19,"d":47},{"t":19,"d":43},{"t":19,"d":39},{"t":19,"d":35},{"t":19,"d":31},{"t":19,"d":27},
{"t":19.5,"d":348},{"t":19.5,"d":343},{"t":19.5,"d":338},{"t":19.5,"d":333},{"t":19.5,"d":328},{"t":19.5,"d":323},{"t":19.5,"d":318},{"t":19.5,"d":313},{"t":19.5,"d":309},{"t":19.5,"d":304},{"t":19.5,"d":270},{"t":19.5,"d":260},{"t":19.5,"d":250},{"t":19.5,"d":241},{"t":19.5,"d":231},{"t":19.5,"d":221},{"t":19.5,"d":211},{"t":19.5,"d":192},{"t":19.5,"d":168},{"t":19.5,"d":158},{"t":19.5,"d":153},{"t":19.5,"d":128},{"t":19.5,"d":124},{"t":19.5,"d":120},{"t":19.5,"d":116},{"t":19.5,"d":112},{"t":19.5,"d":108},{"t":19.5,"d":104},{"t":19.5,"d":100},{"t":19.5,"d":96},{"t":19.5,"d":92},{"t":19.5,"d":88},{"t":19.5,"d":84},{"t":19.5,"d":80},{"t":19.5,"d":76},{"t":19.5,"d":72},{"t":19.5,"d":68},{"t":19.5,"d":64},{"t":19.5,"d":60},{"t":19.5,"d":56},{"t":19.5,"d":52},{"t":19.5,"d":48},{"t":19.5,"d":44},{"t":19.5,"d":40},{"t":19.5,"d":36},{"t":19.5,"d":32},{"t":19.5,"d":27},{"t":19.5,"d":17},
{"t":20,"d":353},{"t":20,"d":348},{"t":20,"d":343},{"t":20,"d":338},{"t":20,"d":333},{"t":20,"d":328},{"t":20,"d":323},{"t":20,"d":319},{"t":20,"d":299},{"t":20,"d":294},{"t":20,"d":289},{"t":20,"d":284},{"t":20,"d":280},{"t":20,"d":265},{"t":20,"d":255},{"t":20,"d":246},{"t":20,"d":236},{"t":20,"d":226},{"t":20,"d":221},{"t":20,"d":207},{"t":20,"d":202},{"t":20,"d":197},{"t":20,"d":163},{"t":20,"d":153},{"t":20,"d":143},{"t":20,"d":124},{"t":20,"d":114},{"t":20,"d":104},{"t":20,"d":95},{"t":20,"d":91},{"t":20,"d":87},{"t":20,"d":83},{"t":20,"d":79},{"t":20,"d":75},{"t":20,"d":71},{"t":20,"d":67},{"t":20,"d":63},{"t":20,"d":59},{"t":20,"d":55},{"t":20,"d":51},{"t":20,"d":47},{"t":20,"d":43},{"t":20,"d":39},{"t":20,"d":35},{"t":20,"d":31},{"t":20,"d":27},{"t":20,"d":23},{"t":20,"d":19},{"t":20,"d":17},
{"t":20.5,"d":348},{"t":20.5,"d":343},{"t":20.5,"d":338},{"t":20.5,"d":333},{"t":20.5,"d":328},{"t":20.5,"d":323},{"t":20.5,"d":318},{"t":20.5,"d":313},{"t":20.5,"d":309},{"t":20.5,"d":304},{"t":20.5,"d":299},{"t":20.5,"d":289},{"t":20.5,"d":284},{"t":20.5,"d":265},{"t":20.5,"d":255},{"t":20.5,"d":246},{"t":20.5,"d":236},{"t":20.5,"d":226},{"t":20.5,"d":216},{"t":20.5,"d":206},{"t":20.5,"d":182},{"t":20.5,"d":148},{"t":20.5,"d":143},{"t":20.5,"d":114},{"t":20.5,"d":104},{"t":20.5,"d":100},{"t":20.5,"d":96},{"t":20.5,"d":92},{"t":20.5,"d":88},{"t":20.5,"d":84},{"t":20.5,"d":80},{"t":20.5,"d":76},{"t":20.5,"d":72},{"t":20.5,"d":68},{"t":20.5,"d":64},{"t":20.5,"d":60},{"t":20.5,"d":56},{"t":20.5,"d":36},{"t":20.5,"d":27},{"t":20.5,"d":22},
{"t":21,"d":357},{"t":21,"d":348},{"t":21,"d":343},{"t":21,"d":338},{"t":21,"d":333},{"t":21,"d":328},{"t":21,"d":323},{"t":21,"d":319},{"t":21,"d":299},{"t":21,"d":294},{"t":21,"d":289},{"t":21,"d":284},{"t":21,"d":280},{"t":21,"d":275},{"t":21,"d":255},{"t":21,"d":246},{"t":21,"d":236},{"t":21,"d":226},{"t":21,"d":216},{"t":21,"d":206},{"t":21,"d":182},{"t":21,"d":148},{"t":21,"d":143},{"t":21,"d":138},{"t":21,"d":134},{"t":21,"d":124},{"t":21,"d":120},{"t":21,"d":116},{"t":21,"d":112},{"t":21,"d":108},{"t":21,"d":104},{"t":21,"d":100},{"t":21,"d":96},{"t":21,"d":92},{"t":21,"d":88},{"t":21,"d":84},{"t":21,"d":80},{"t":21,"d":76},{"t":21,"d":72},{"t":21,"d":68},{"t":21,"d":64},{"t":21,"d":60},{"t":21,"d":56},{"t":21,"d":52},{"t":21,"d":36},{"t":21,"d":27},{"t":21,"d":17},{"t":21,"d":7},{"t":21,"d":2},
{"t":21.5,"d":357},{"t":21.5,"d":352},{"t":21.5,"d":347},{"t":21.5,"d":342},{"t":21.5,"d":337},{"t":21.5,"d":332},{"t":21.5,"d":327},{"t":21.5,"d":322},{"t":21.5,"d":317},{"t":21.5,"d":313},{"t":21.5,"d":309},{"t":21.5,"d":304},{"t":21.5,"d":299},{"t":21.5,"d":294},{"t":21.5,"d":289},{"t":21.5,"d":284},{"t":21.5,"d":280},{"t":21.5,"d":241},{"t":21.5,"d":231},{"t":21.5,"d":221},{"t":21.5,"d":211},{"t":21.5,"d":202},{"t":21.5,"d":182},{"t":21.5,"d":148},{"t":21.5,"d":143},{"t":21.5,"d":138},{"t":21.5,"d":134},{"t":21.5,"d":128},{"t":21.5,"d":124},{"t":21.5,"d":120},{"t":21.5,"d":116},{"t":21.5,"d":112},{"t":21.5,"d":108},{"t":21.5,"d":104},{"t":21.5,"d":100},{"t":21.5,"d":96},{"t":21.5,"d":92},{"t":21.5,"d":88},{"t":21.5,"d":84},{"t":21.5,"d":80},{"t":21.5,"d":76},{"t":21.5,"d":72},{"t":21.5,"d":68},{"t":21.5,"d":64},{"t":21.5,"d":60},{"t":21.5,"d":56},{"t":21.5,"d":51},{"t":21.5,"d":41},{"t":21.5,"d":32},{"t":21.5,"d":22},{"t":21.5,"d":17},
{"t":22,"d":357},{"t":22,"d":352},{"t":22,"d":347},{"t":22,"d":342},{"t":22,"d":337},{"t":22,"d":332},{"t":22,"d":327},{"t":22,"d":322},{"t":22,"d":317},{"t":22,"d":313},{"t":22,"d":309},{"t":22,"d":304},{"t":22,"d":299},{"t":22,"d":294},{"t":22,"d":289},{"t":22,"d":284},{"t":22,"d":280},{"t":22,"d":231},{"t":22,"d":221},{"t":22,"d":211},{"t":22,"d":202},{"t":22,"d":177},{"t":22,"d":143},{"t":22,"d":138},{"t":22,"d":133},{"t":22,"d":128},{"t":22,"d":124},{"t":22,"d":120},{"t":22,"d":116},{"t":22,"d":112},{"t":22,"d":108},{"t":22,"d":104},{"t":22,"d":100},{"t":22,"d":96},{"t":22,"d":92},{"t":22,"d":88},{"t":22,"d":84},{"t":22,"d":80},{"t":22,"d":76},{"t":22,"d":72},{"t":22,"d":68},{"t":22,"d":64},{"t":22,"d":60},{"t":22,"d":56},{"t":22,"d":41},{"t":22,"d":32},{"t":22,"d":22},
{"t":22.5,"d":360},{"t":22.5,"d":355},{"t":22.5,"d":350},{"t":22.5,"d":345},{"t":22.5,"d":340},{"t":22.5,"d":335},{"t":22.5,"d":330},{"t":22.5,"d":325},{"t":22.5,"d":320},{"t":22.5,"d":315},{"t":22.5,"d":310},{"t":22.5,"d":305},{"t":22.5,"d":300},{"t":22.5,"d":295},{"t":22.5,"d":290},{"t":22.5,"d":285},{"t":22.5,"d":280},{"t":22.5,"d":275},{"t":22.5,"d":240},{"t":22.5,"d":230},{"t":22.5,"d":220},{"t":22.5,"d":210},{"t":22.5,"d":200},{"t":22.5,"d":190},{"t":22.5,"d":182},{"t":22.5,"d":165},{"t":22.5,"d":155},{"t":22.5,"d":150},{"t":22.5,"d":146},{"t":22.5,"d":142},{"t":22.5,"d":138},{"t":22.5,"d":134},{"t":22.5,"d":130},{"t":22.5,"d":126},{"t":22.5,"d":122},{"t":22.5,"d":118},{"t":22.5,"d":114},{"t":22.5,"d":110},{"t":22.5,"d":106},{"t":22.5,"d":102},{"t":22.5,"d":98},{"t":22.5,"d":94},{"t":22.5,"d":90},{"t":22.5,"d":86},{"t":22.5,"d":82},{"t":22.5,"d":78},{"t":22.5,"d":74},{"t":22.5,"d":70},{"t":22.5,"d":66},{"t":22.5,"d":62},{"t":22.5,"d":58},{"t":22.5,"d":54},{"t":22.5,"d":50},{"t":22.5,"d":31},{"t":22.5,"d":22},{"t":22.5,"d":15},{"t":22.5,"d":7},
{"t":23,"d":360},{"t":23,"d":355},{"t":23,"d":350},{"t":23,"d":340},{"t":23,"d":333},{"t":23,"d":326},{"t":23,"d":318},{"t":23,"d":300},{"t":23,"d":292},{"t":23,"d":285},{"t":23,"d":278},{"t":23,"d":230},{"t":23,"d":215},{"t":23,"d":200},{"t":23,"d":190},{"t":23,"d":186},{"t":23,"d":160},{"t":23,"d":150},{"t":23,"d":142},{"t":23,"d":136},{"t":23,"d":130},{"t":23,"d":124},{"t":23,"d":118},{"t":23,"d":112},{"t":23,"d":106},{"t":23,"d":100},{"t":23,"d":94},{"t":23,"d":88},{"t":23,"d":82},{"t":23,"d":76},{"t":23,"d":70},{"t":23,"d":64},{"t":23,"d":58},{"t":23,"d":52},{"t":23,"d":46},{"t":23,"d":40},{"t":23,"d":27},{"t":23,"d":17},{"t":23,"d":12},{"t":23,"d":5},
{"t":23.5,"d":355},{"t":23.5,"d":350},{"t":23.5,"d":345},{"t":23.5,"d":340},{"t":23.5,"d":335},{"t":23.5,"d":330},{"t":23.5,"d":325},{"t":23.5,"d":320},{"t":23.5,"d":318},{"t":23.5,"d":292},{"t":23.5,"d":285},{"t":23.5,"d":278},{"t":23.5,"d":240},{"t":23.5,"d":230},{"t":23.5,"d":220},{"t":23.5,"d":210},{"t":23.5,"d":200},{"t":23.5,"d":190},{"t":23.5,"d":186},{"t":23.5,"d":170},{"t":23.5,"d":160},{"t":23.5,"d":146},{"t":23.5,"d":140},{"t":23.5,"d":134},{"t":23.5,"d":128},{"t":23.5,"d":122},{"t":23.5,"d":116},{"t":23.5,"d":110},{"t":23.5,"d":104},{"t":23.5,"d":98},{"t":23.5,"d":92},{"t":23.5,"d":86},{"t":23.5,"d":80},{"t":23.5,"d":74},{"t":23.5,"d":68},{"t":23.5,"d":62},{"t":23.5,"d":56},{"t":23.5,"d":55},{"t":23.5,"d":22},{"t":23.5,"d":12},{"t":23.5,"d":7}
],
"grid": [
{"i":0,"lv":0},{"i":1,"lv":0},{"i":2,"lv":0},{"i":3,"lv":0},{"i":4,"lv":0},{"i":5,"lv":0},{"i":6,"lv":0},{"i":7,"lv":0},{"i":8,"lv":0},{"i":9,"lv":0},{"i":10,"lv":0},{"i":11,"lv":0},{"i":12,"lv":0},{"i":13,"lv":0},{"i":14,"lv":0},{"i":15,"lv":0},
{"i":0,"lv":5},{"i":1,"lv":5},{"i":2,"lv":5},{"i":3,"lv":5},{"i":4,"lv":5},{"i":5,"lv":5},{"i":6,"lv":5},{"i":7,"lv":5},{"i":8,"lv":5},{"i":9,"lv":5},{"i":10,"lv":5},{"i":11,"lv":5},{"i":12,"lv":5},{"i":13,"lv":5},{"i":14,"lv":5},{"i":15,"lv":5},
{"i":0,"lv":10},{"i":1,"lv":10},{"i":2,"lv":10},{"i":3,"lv":10},{"i":4,"lv":10},{"i":5,"lv":10},{"i":6,"lv":10},{"i":7,"lv":10},{"i":8,"lv":10},{"i":9,"lv":10},{"i":10,"lv":10},{"i":11,"lv":10},{"i":12,"lv":10},{"i":13,"lv":10},{"i":14,"lv":10},{"i":15,"lv":10},
{"i":0,"lv":15},{"i":1,"lv":15},{"i":2,"lv":15},{"i":3,"lv":15},{"i":4,"lv":15},{"i":5,"lv":15},{"i":6,"lv":15},{"i":7,"lv":15},{"i":8,"lv":15},{"i":9,"lv":15},{"i":10,"lv":15},{"i":11,"lv":15},{"i":12,"lv":15},{"i":13,"lv":15},{"i":14,"lv":15},{"i":15,"lv":15},
{"i":0,"lv":20},{"i":1,"lv":20},{"i":2,"lv":20},{"i":3,"lv":20},{"i":4,"lv":20},{"i":5,"lv":20},{"i":6,"lv":20},{"i":7,"lv":20},{"i":8,"lv":20},{"i":9,"lv":20},{"i":10,"lv":20},{"i":11,"lv":20},{"i":12,"lv":20},{"i":13,"lv":20},{"i":14,"lv":20},{"i":15,"lv":20},
{"i":0,"lv":25},{"i":1,"lv":25},{"i":2,"lv":25},{"i":3,"lv":25},{"i":4,"lv":25},{"i":5,"lv":25},{"i":6,"lv":25},{"i":7,"lv":25},{"i":8,"lv":25},{"i":9,"lv":25},{"i":10,"lv":25},{"i":11,"lv":25},{"i":12,"lv":25},{"i":13,"lv":25},{"i":14,"lv":25},{"i":15,"lv":25},
{"i":0,"lv":30},{"i":1,"lv":30},{"i":2,"lv":30},{"i":3,"lv":30},{"i":4,"lv":30},{"i":5,"lv":30},{"i":6,"lv":30},{"i":7,"lv":30},{"i":8,"lv":30},{"i":9,"lv":30},{"i":10,"lv":30},{"i":11,"lv":30},{"i":12,"lv":30},{"i":13,"lv":30},{"i":14,"lv":30},{"i":15,"lv":30},
{"i":0,"lv":35},{"i":1,"lv":35},{"i":2,"lv":35},{"i":3,"lv":35},{"i":4,"lv":35},{"i":5,"lv":35},{"i":6,"lv":35},{"i":7,"lv":35},{"i":8,"lv":35},{"i":9,"lv":35},{"i":10,"lv":35},{"i":11,"lv":35},{"i":12,"lv":35},{"i":13,"lv":35},{"i":14,"lv":35},{"i":15,"lv":35}
],
"dirs": [
{"i":0,"n":"N"},{"i":1,"n":"NNE"},{"i":2,"n":"NE"},{"i":3,"n":"ENE"},{"i":4,"n":"E"},{"i":5,"n":"ESE"},{"i":6,"n":"SE"},{"i":7,"n":"SSE"},{"i":8,"n":"S"},{"i":9,"n":"SSW"},{"i":10,"n":"SW"},{"i":11,"n":"WSW"},{"i":12,"n":"W"},{"i":13,"n":"WNW"},{"i":14,"n":"NW"},{"i":15,"n":"NNW"}
],
"pct": [
{"lv":0,"lab":"0%"},{"lv":5,"lab":"5%"},{"lv":10,"lab":"10%"},{"lv":15,"lab":"15%"},{"lv":20,"lab":"20%"},{"lv":25,"lab":"25%"},{"lv":30,"lab":"30%"},{"lv":35,"lab":"35%"}
],
"radar": [
{"s":"All","i":0,"v":3},{"s":"All","i":1,"v":2},{"s":"All","i":2,"v":2.5},{"s":"All","i":3,"v":5},{"s":"All","i":4,"v":18.5},{"s":"All","i":5,"v":11.5},{"s":"All","i":6,"v":4},{"s":"All","i":7,"v":2},{"s":"All","i":8,"v":3},{"s":"All","i":9,"v":4},{"s":"All","i":10,"v":5.5},{"s":"All","i":11,"v":8},{"s":"All","i":12,"v":9},{"s":"All","i":13,"v":9.5},{"s":"All","i":14,"v":7.5},{"s":"All","i":15,"v":6.5},
{"s":"JST 0-9","i":0,"v":3.5},{"s":"JST 0-9","i":1,"v":1.5},{"s":"JST 0-9","i":2,"v":2},{"s":"JST 0-9","i":3,"v":4.5},{"s":"JST 0-9","i":4,"v":33},{"s":"JST 0-9","i":5,"v":19.5},{"s":"JST 0-9","i":6,"v":5.5},{"s":"JST 0-9","i":7,"v":2},{"s":"JST 0-9","i":8,"v":3},{"s":"JST 0-9","i":9,"v":3.5},{"s":"JST 0-9","i":10,"v":2.5},{"s":"JST 0-9","i":11,"v":2.5},{"s":"JST 0-9","i":12,"v":2.5},{"s":"JST 0-9","i":13,"v":3},{"s":"JST 0-9","i":14,"v":3},{"s":"JST 0-9","i":15,"v":4},
{"s":"JST 9-21","i":0,"v":4},{"s":"JST 9-21","i":1,"v":3},{"s":"JST 9-21","i":2,"v":4.5},{"s":"JST 9-21","i":3,"v":5.5},{"s":"JST 9-21","i":4,"v":6},{"s":"JST 9-21","i":5,"v":4},{"s":"JST 9-21","i":6,"v":2},{"s":"JST 9-21","i":7,"v":2},{"s":"JST 9-21","i":8,"v":3},{"s":"JST 9-21","i":9,"v":4},{"s":"JST 9-21","i":10,"v":7},{"s":"JST 9-21","i":11,"v":9},{"s":"JST 9-21","i":12,"v":15},{"s":"JST 9-21","i":13,"v":18},{"s":"JST 9-21","i":14,"v":11},{"s":"JST 9-21","i":15,"v":7}
]
},
"hconcat": [
{
"width": 424, "height": 248,
"view": {"stroke": "#000", "strokeWidth": 1.5},
"title": {"text": "Wind direction (30 minute average)", "fontSize": 18.5, "fontWeight": "normal", "anchor": "middle", "dx": -32, "offset": 3, "color": "#000"},
"resolve": {"axis": {"y": "independent"}},
"layer": [
{"data": {"values": [{"g": 90}, {"g": 180}, {"g": 270}]},
 "mark": {"type": "rule", "color": "#000", "strokeWidth": 1},
 "encoding": {"y": {"field": "g", "type": "quantitative", "scale": {"domain": [0, 360], "nice": false},
   "axis": {"orient": "right", "values": [0, 90, 180, 270, 360], "labelExpr": "datum.value == 90 ? 'E' : datum.value == 180 ? 'S' : datum.value == 270 ? 'W' : 'N'", "title": null, "ticks": false, "domain": false, "grid": false, "labelFontSize": 18.5, "labelPadding": 11, "labelOffset": 2, "labelFlush": false, "labelOverlap": false, "labelBound": false}}}},
{"data": {"name": "scatter"},
 "mark": {"type": "circle", "size": 14, "color": "#000080", "opacity": 1},
 "encoding": {
  "x": {"field": "t", "type": "quantitative", "scale": {"domain": [0, 24], "nice": false, "zero": false},
   "axis": {"values": [0, 6, 12, 18, 24], "labelExpr": "datum.value == 24 ? '0:00' : datum.value + ':00'", "title": "Time of day (JST)", "grid": true, "gridColor": "#000", "gridOpacity": 1, "gridWidth": 1, "ticks": false, "domain": true, "domainColor": "#000", "domainWidth": 2, "labelFontSize": 18.5, "labelPadding": 22, "labelFlush": false, "labelOverlap": false, "labelBound": false, "titleFontSize": 18.5, "titleFontWeight": "normal", "titlePadding": 9}},
  "y": {"field": "d", "type": "quantitative", "scale": {"domain": [0, 360], "nice": false},
   "axis": {"orient": "left", "values": [0, 90, 180, 270, 360], "title": "Direction (deg)", "grid": false, "ticks": false, "domain": false, "labelFontSize": 18.5, "labelPadding": 19, "labelOffset": 3, "labelFlush": false, "labelOverlap": false, "labelBound": false, "titleFontSize": 18.5, "titleFontWeight": "normal", "titlePadding": 11}}
 }}
]
},
{
"width": 302, "height": 302,
"title": {"text": "Wind direction distribution", "fontSize": 19, "fontWeight": "bold", "anchor": "middle", "dx": 35, "offset": 4, "color": "#000"},
"layer": [
{"data": {"name": "grid"},
 "transform": [{"filter": "datum.lv > 0"}, {"calculate": "datum.lv * sin(datum.i * PI / 8)", "as": "x"}, {"calculate": "datum.lv * cos(datum.i * PI / 8)", "as": "y"}],
 "mark": {"type": "line", "interpolate": "linear-closed", "color": "#000", "strokeWidth": 1},
 "encoding": {
  "x": {"field": "x", "type": "quantitative", "scale": {"domain": [-37.48, 37.48], "nice": false, "zero": false}, "axis": null},
  "y": {"field": "y", "type": "quantitative", "scale": {"domain": [-37.48, 37.48], "nice": false, "zero": false}, "axis": null},
  "detail": {"field": "lv", "type": "nominal"},
  "order": {"field": "i", "type": "quantitative"}}},
{"data": {"name": "grid"},
 "transform": [{"filter": "datum.lv == 0 || datum.lv == 35"}, {"calculate": "datum.lv * sin(datum.i * PI / 8)", "as": "x"}, {"calculate": "datum.lv * cos(datum.i * PI / 8)", "as": "y"}],
 "mark": {"type": "line", "color": "#000", "strokeWidth": 1},
 "encoding": {
  "x": {"field": "x", "type": "quantitative", "scale": {"domain": [-37.48, 37.48], "nice": false, "zero": false}, "axis": null},
  "y": {"field": "y", "type": "quantitative", "scale": {"domain": [-37.48, 37.48], "nice": false, "zero": false}, "axis": null},
  "detail": {"field": "i", "type": "nominal"},
  "order": {"field": "lv", "type": "quantitative"}}},
{"data": {"name": "radar"},
 "transform": [{"calculate": "datum.v * sin(datum.i * PI / 8)", "as": "x"}, {"calculate": "datum.v * cos(datum.i * PI / 8)", "as": "y"}],
 "encoding": {
  "x": {"field": "x", "type": "quantitative", "scale": {"domain": [-37.48, 37.48], "nice": false, "zero": false}, "axis": null},
  "y": {"field": "y", "type": "quantitative", "scale": {"domain": [-37.48, 37.48], "nice": false, "zero": false}, "axis": null},
  "order": {"field": "i", "type": "quantitative"},
  "stroke": {"field": "s", "type": "nominal", "scale": {"domain": ["All", "JST 0-9", "JST 9-21"], "range": ["#000080", "#404040", "#000000"]},
   "legend": {"orient": "none", "legendX": 866, "legendY": -7, "title": null, "symbolType": "square", "symbolSize": 100, "labelFontSize": 17.5, "labelColor": "#000", "labelFont": "Liberation Serif", "strokeColor": "#000", "fillColor": "#fff", "padding": 7, "rowPadding": 4.5, "labelOffset": 4, "labelLimit": 200,
    "encode": {"symbols": {"update": {
      "fill": {"signal": "datum.value === 'All' ? '#99ee99' : '#ffffff'"},
      "stroke": {"value": "#000000"},
      "strokeWidth": {"signal": "datum.value === 'JST 0-9' ? 3.5 : 1.5"},
      "strokeDash": {"signal": "datum.value === 'JST 0-9' ? [3, 3] : [1, 0]"},
      "opacity": {"value": 1}}}}}}
 },
 "layer": [
  {"transform": [{"filter": "datum.s === 'All'"}], "mark": {"type": "line", "interpolate": "linear-closed", "fill": "#5c5cad", "fillOpacity": 0.55, "strokeWidth": 2}},
  {"transform": [{"filter": "datum.s === 'JST 9-21'"}], "mark": {"type": "line", "interpolate": "linear-closed", "strokeWidth": 1.5}},
  {"transform": [{"filter": "datum.s === 'JST 0-9'"}], "mark": {"type": "line", "interpolate": "linear-closed", "strokeWidth": 4, "strokeDash": [9, 6], "strokeCap": "round"}}
 ]},
{"data": {"name": "dirs"},
 "transform": [{"calculate": "39.7 * sin(datum.i * PI / 8)", "as": "x"}, {"calculate": "39.7 * cos(datum.i * PI / 8)", "as": "y"}],
 "mark": {"type": "text", "align": "center", "baseline": "middle", "fontSize": 17.5, "color": "#000"},
 "encoding": {
  "x": {"field": "x", "type": "quantitative", "scale": {"domain": [-37.48, 37.48], "nice": false, "zero": false}, "axis": null},
  "y": {"field": "y", "type": "quantitative", "scale": {"domain": [-37.48, 37.48], "nice": false, "zero": false}, "axis": null},
  "text": {"field": "n", "type": "nominal"}}},
{"data": {"name": "pct"},
 "mark": {"type": "text", "align": "right", "baseline": "middle", "dx": -10, "dy": 2, "fontSize": 17.5, "color": "#000"},
 "encoding": {
  "x": {"datum": 0, "type": "quantitative", "scale": {"domain": [-37.48, 37.48], "nice": false, "zero": false}, "axis": null},
  "y": {"field": "lv", "type": "quantitative", "scale": {"domain": [-37.48, 37.48], "nice": false, "zero": false}, "axis": null},
  "text": {"field": "lab", "type": "nominal"}}}
]
}
]
}
